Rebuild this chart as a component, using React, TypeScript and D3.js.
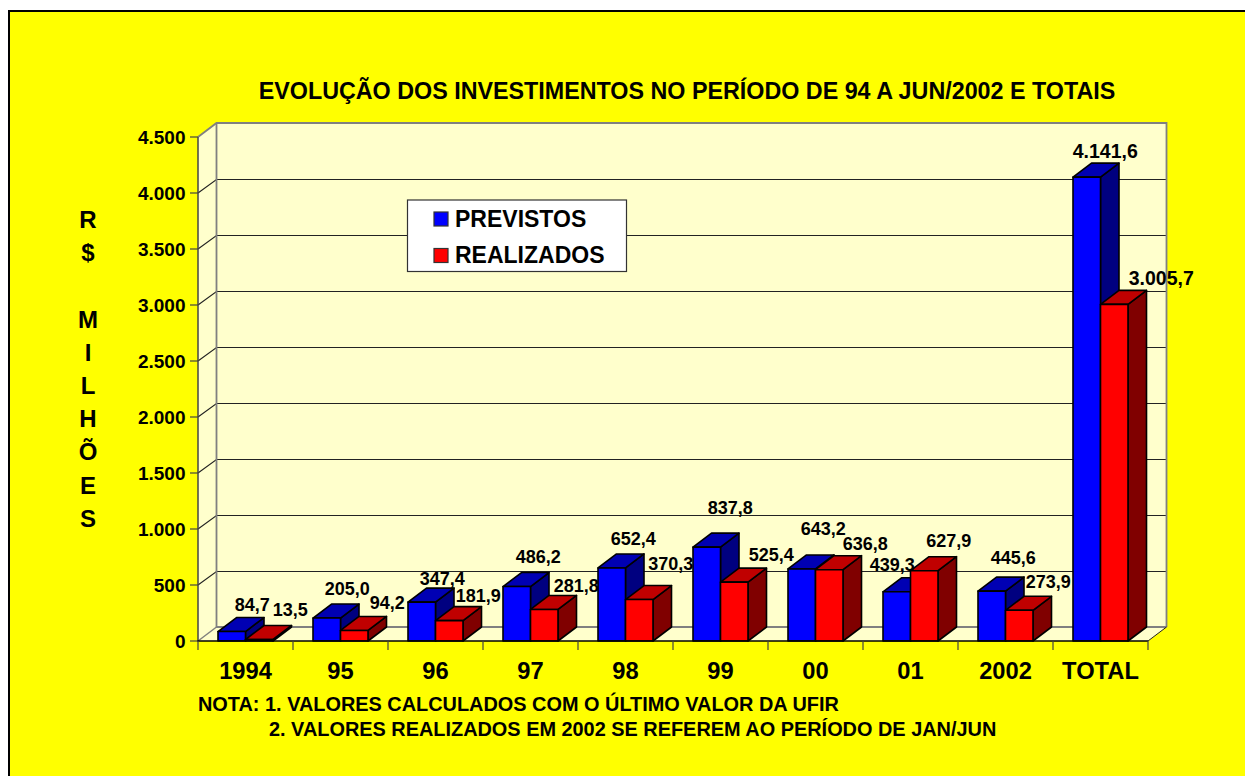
import * as d3 from "d3";

// values in R$ millions
const categories = ["1994", "95", "96", "97", "98", "99", "00", "01", "2002", "TOTAL"];
const previstos = [84.7, 205.0, 347.4, 486.2, 652.4, 837.8, 643.2, 439.3, 445.6, 4141.6];
const realizados = [13.5, 94.2, 181.9, 281.8, 370.3, 525.4, 636.8, 627.9, 273.9, 3005.7];
const yTicks = [0, 500, 1000, 1500, 2000, 2500, 3000, 3500, 4000, 4500];
const axisLetters = ["R", "$", "", "M", "I", "L", "H", "Õ", "E", "S"];

// hand placed labels in the original, so each one gets a nudge from its bar
const previstosNudge = [[2, -6.5], [2, -9], [2, -3], [3, -9.5], [3, -9], [5, -19], [3, -20], [-23, -7], [3, -13], [0, -5]];
const realizadosNudge = [[12.5, -9], [14.5, -7.5], [10.5, -4.6], [13.5, -3.4], [13, -15.5], [18.5, -7], [17.5, -5.7], [6, -9.7], [10.5, -8.3], [28.5, -5.4]];

const title = "EVOLUÇÃO DOS INVESTIMENTOS NO PERÍODO DE 94 A JUN/2002 E TOTAIS";
const note1 = "NOTA: 1. VALORES CALCULADOS COM O ÚLTIMO VALOR DA UFIR";
const note2 = "2. VALORES REALIZADOS EM 2002 SE REFEREM AO PERÍODO DE JAN/JUN";

const width = 1245;
const height = 776;
const left = 198;
const right = 1148;
const top = 137;
const bottom = 641;
const depthX = 18.5;
const depthY = 14;
const barWidth = 27.5;

const WALL = "#FFFFCC";
const GRID_EDGE = "#808080";
const FONT = "'Liberation Sans', Arial, sans-serif";

const ptBR = d3.formatLocale({ decimal: ",", thousands: ".", grouping: [3], currency: ["", ""] });
const tickFormat = ptBR.format(",d");
const valueFormat = ptBR.format(",.1f");

const x = d3.scaleBand<string>().domain(categories).range([left, right]);
const y = d3.scaleLinear().domain([0, 4500]).range([bottom, top]);

const poly = (pts: number[][]) => pts.map((p) => p.join(",")).join(" ");

function Bar({ x0, value, front, topFace, side }: { x0: number; value: number; front: string; topFace: string; side: string }) {
  const yTop = y(value);
  const x1 = x0 + barWidth;
  return (
    <g stroke="#000" strokeWidth={1.6} strokeLinejoin="round">
      <polygon fill={side} points={poly([[x1, yTop], [x1 + depthX, yTop - depthY], [x1 + depthX, bottom - depthY], [x1, bottom]])} />
      <polygon fill={topFace} points={poly([[x0, yTop], [x0 + depthX, yTop - depthY], [x1 + depthX, yTop - depthY], [x1, yTop]])} />
      <rect x={x0} y={yTop} width={barWidth} height={bottom - yTop} fill={front} />
    </g>
  );
}

export default function App() {
  const bw = x.bandwidth();
  const barsStart = (c: string) => x(c)! + (bw - barWidth * 2) / 2;

  return (
    <svg width={width} height={height} style={{ position: "absolute", left: 0, top: 0, display: "block" }} fontFamily={FONT} fontWeight="bold">
      <rect x={0} y={0} width={width} height={height} fill="#fff" />
      <rect x={9} y={11} width={width + 20} height={height + 20} fill="#FFFF00" stroke="#000" strokeWidth={2} />

      <text x={687} y={99} textAnchor="middle" fontSize={23.3}>{title}</text>

      {/* walls and floor */}
      <polygon fill={WALL} points={poly([[left + depthX, top - depthY], [right + depthX, top - depthY], [right + depthX, bottom - depthY], [left + depthX, bottom - depthY]])} />
      <polygon fill={WALL} points={poly([[left, top], [left + depthX, top - depthY], [left + depthX, bottom - depthY], [left, bottom]])} />
      <polygon fill={WALL} points={poly([[left, bottom], [left + depthX, bottom - depthY], [right + depthX, bottom - depthY], [right, bottom]])} />

      {/* gridlines */}
      {yTicks.slice(1, -1).map((t) => (
        <polyline
          key={t}
          stroke="#222"
          strokeWidth={1.1}
          fill="none"
          points={poly([[left, y(t)], [left + depthX, y(t) - depthY + 0.5], [right + depthX, y(t) - depthY + 0.5]])}
        />
      ))}

      {/* wall edges */}
      <polyline
        fill="none"
        stroke={GRID_EDGE}
        strokeWidth={1.8}
        points={poly([[left, top], [left + depthX, top - depthY], [right + depthX, top - depthY], [right + depthX, bottom - depthY]])}
      />
      <polyline fill="none" stroke={GRID_EDGE} strokeWidth={1.8} points={poly([[left + depthX, top - depthY], [left + depthX, bottom - depthY], [right + depthX, bottom - depthY]])} />
      <line x1={left} x2={left + depthX} y1={bottom} y2={bottom - depthY} stroke={GRID_EDGE} strokeWidth={1.5} />
      <line x1={right} x2={right + depthX} y1={bottom} y2={bottom - depthY} stroke="#222" strokeWidth={1} />

      {/* bars */}
      {categories.map((c, i) => (
        <g key={c}>
          <Bar x0={barsStart(c)} value={previstos[i]} front="#0000FF" topFace="#0000B3" side="#000080" />
          <Bar x0={barsStart(c) + barWidth} value={realizados[i]} front="#FF0000" topFace="#C00000" side="#800000" />
        </g>
      ))}

      {/* axes */}
      <line x1={left} x2={left} y1={top} y2={bottom} stroke="#444" strokeWidth={1.5} />
      <line x1={left - 1} x2={right} y1={bottom} y2={bottom} stroke="#000" strokeWidth={1.6} />
      {yTicks.map((t) => (
        <g key={t}>
          <line x1={190} x2={left} y1={y(t)} y2={y(t)} stroke="#444" strokeWidth={1.2} />
          <text x={185.5} y={y(t) + 7} textAnchor="end" fontSize={19}>{tickFormat(t)}</text>
        </g>
      ))}
      {[...categories.map((c) => x(c)!), right].map((px) => (
        <line key={px} x1={px} x2={px} y1={bottom} y2={650} stroke="#444" strokeWidth={1.2} />
      ))}
      {categories.map((c) => (
        <text key={c} x={x(c)! + bw / 2} y={678.5} textAnchor="middle" fontSize={23.7}>{c}</text>
      ))}

      {/* data labels, the TOTAL pair runs a bit larger */}
      {categories.map((c, i) => (
        <g key={c} fontSize={c === "TOTAL" ? 19.5 : 18} textAnchor="middle">
          <text x={barsStart(c) + barWidth / 2 + depthX + previstosNudge[i][0]} y={y(previstos[i]) - depthY + previstosNudge[i][1]}>
            {valueFormat(previstos[i])}
          </text>
          <text x={barsStart(c) + barWidth * 1.5 + depthX + realizadosNudge[i][0]} y={y(realizados[i]) - depthY + realizadosNudge[i][1]}>
            {valueFormat(realizados[i])}
          </text>
        </g>
      ))}

      {/* legend */}
      <rect x={407.5} y={200} width={219} height={71.5} fill="#fff" stroke="#333" strokeWidth={1.2} />
      <rect x={434} y={212} width={14} height={14} fill="#0000FF" stroke="#333" strokeWidth={1.2} />
      <rect x={434} y={248.5} width={14} height={14} fill="#FF0000" stroke="#333" strokeWidth={1.2} />
      <text x={455} y={226.5} fontSize={23}>PREVISTOS</text>
      <text x={455} y={263} fontSize={23}>REALIZADOS</text>

      {/* vertical axis title */}
      {axisLetters.map((l, i) => (
        <text key={i} x={88} y={228 + i * 33.2} textAnchor="middle" fontSize={24}>{l}</text>
      ))}

      <text x={198} y={710.5} fontSize={19.9}>{note1}</text>
      <text x={269} y={736} fontSize={19.9}>{note2}</text>
    </svg>
  );
}
